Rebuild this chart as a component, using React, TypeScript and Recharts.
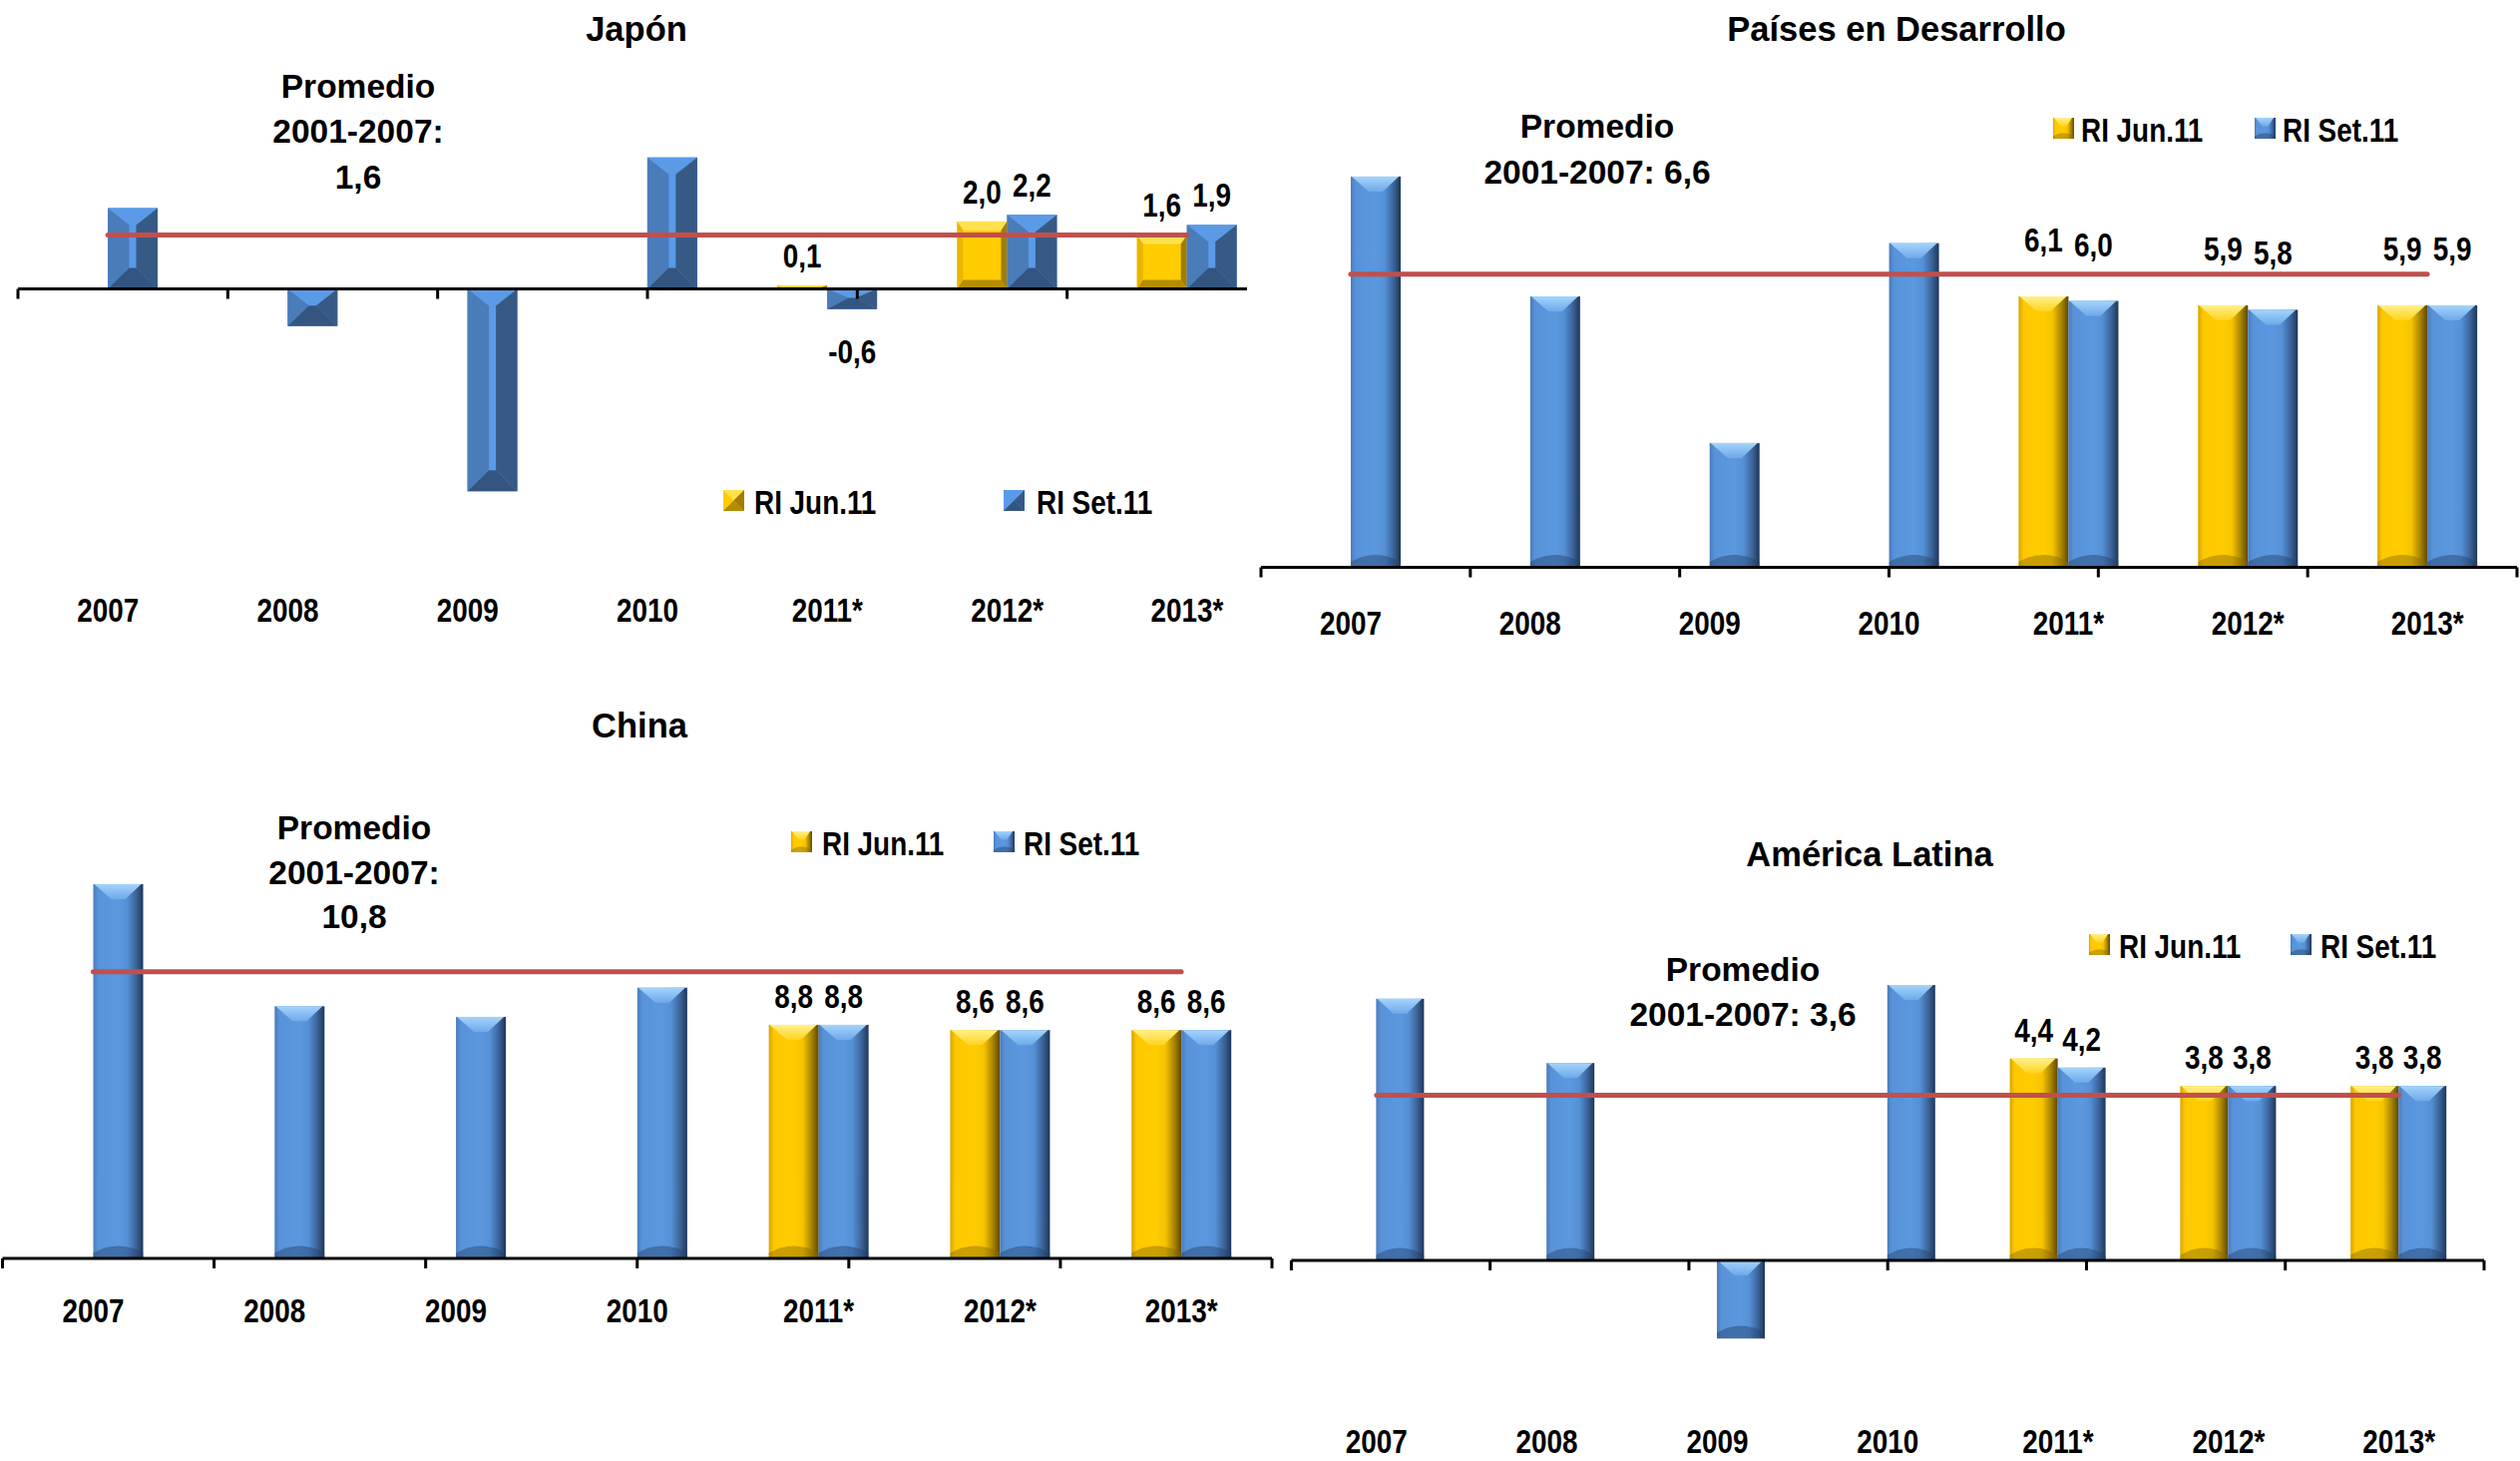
import React from 'react';
import { ComposedChart, Bar, Line, XAxis, YAxis, ReferenceLine, LabelList } from 'recharts';

// ---------- data ----------
const years = ['2007', '2008', '2009', '2010', '2011*', '2012*', '2013*'];
// projection years carry value labels
const projected = [false, false, false, false, true, true, true];
const seriesNames = ['RI Jun.11', 'RI Set.11'];

const japonJun = [null, null, null, null, 0.1, 2.0, 1.6];
const japonSet = [2.4, -1.1, -6.0, 3.9, -0.6, 2.2, 1.9];
const japonPromedio = 1.6;

const desarrolloJun = [null, null, null, null, 6.1, 5.9, 5.9];
const desarrolloSet = [8.8, 6.1, 2.8, 7.3, 6.0, 5.8, 5.9];
const desarrolloPromedio = 6.6;

const chinaJun = [null, null, null, null, 8.8, 8.6, 8.6];
const chinaSet = [14.1, 9.5, 9.1, 10.2, 8.8, 8.6, 8.6];
const chinaPromedio = 10.8;

const latamJun = [null, null, null, null, 4.4, 3.8, 3.8];
const latamSet = [5.7, 4.3, -1.7, 6.0, 4.2, 3.8, 3.8];
const latamPromedio = 3.6;

// ---------- styling helpers ----------
const FONT = '"Liberation Sans", Arial, Helvetica, sans-serif';
const NARROW = 0.82;
const AVG_RED = '#C0504D';

const fmt = (v: number) => v.toFixed(1).replace('.', ',');

function NarrowText({ x, y, anchor = 'middle', size = 34, children }: any) {
  return (
    <text
      transform={`translate(${x},${y}) scale(${NARROW},1)`}
      textAnchor={anchor}
      fontFamily={FONT}
      fontWeight={700}
      fontSize={size}
      fill="#000"
    >
      {children}
    </text>
  );
}

const BEVEL: any = {
  blue: { face: '#5B9AE6', top: '#5B9AE6', left: '#4A7CBA', right: '#375A85', bottom: '#33557F', size: [21.5, 17, 21] },
  gold: { face: '#FFCC00', top: '#FFE14F', left: '#E9B600', right: '#A17D00', bottom: '#B48C00', size: [6, 9, 9] },
};

function BarFace(props: any) {
  const { x, y, width, height, tone, kind } = props;
  if (x == null || y == null || !width || !height) return null;
  let top = y;
  let h = height;
  if (h < 0) {
    top = y + h;
    h = -h;
  }
  const w = width;
  const x0 = x;
  const x1 = x + w;
  const y0 = top;
  const y1 = top + h;

  if (kind === 'bevel') {
    const p = BEVEL[tone];
    const s = Math.min(p.size[0], w / 2 - 3);
    let t = p.size[1];
    let b = p.size[2];
    if (t + b > h) {
      const k = h / (t + b);
      t *= k;
      b *= k;
    }
    return (
      <g>
        <rect x={x0} y={y0} width={w} height={h} fill={p.face} />
        <polygon points={`${x0},${y0} ${x1},${y0} ${x1 - s},${y0 + t} ${x0 + s},${y0 + t}`} fill={p.top} />
        <polygon points={`${x0},${y0} ${x0 + s},${y0 + t} ${x0 + s},${y1 - b} ${x0},${y1}`} fill={p.left} />
        <polygon points={`${x1},${y0} ${x1 - s},${y0 + t} ${x1 - s},${y1 - b} ${x1},${y1}`} fill={p.right} />
        <polygon points={`${x0},${y1} ${x0 + s},${y1 - b} ${x1 - s},${y1 - b} ${x1},${y1}`} fill={p.bottom} />
      </g>
    );
  }

  const cap = Math.min(15, h * 0.4);
  const shade = Math.min(14, h * 0.3);
  return (
    <g>
      <rect x={x0} y={y0} width={w} height={h} fill={`url(#glass-${tone})`} />
      <polygon
        points={`${x0 + 1},${y0} ${x1 - 2},${y0} ${x0 + w * 0.64},${y0 + cap} ${x0 + w * 0.36},${y0 + cap}`}
        fill={`url(#cap-${tone})`}
      />
      <path
        d={`M${x0},${y1} L${x0},${y1 - shade * 0.4} Q${x0 + w / 2},${y1 - shade * 1.4} ${x1},${y1 - shade * 0.4} L${x1},${y1} Z`}
        fill={tone === 'blue' ? '#23406A' : '#8A6A00'}
        opacity={0.45}
      />
    </g>
  );
}

function CategoryTick(props: any) {
  const { x, y, payload, dy } = props;
  return <NarrowText x={x} y={y + dy}>{payload.value}</NarrowText>;
}

function TickMark(props: any) {
  const { x1, y1 } = props;
  if (x1 == null || y1 == null) return null;
  return <line x1={x1} y1={y1} x2={x1} y2={y1 + 10} stroke="#000" strokeWidth={3} />;
}

const labelRenderer = (gapAbove: number, gapBelow: number) => (props: any) => {
  const raw = props.value;
  const v = typeof raw === 'number' ? raw : Array.isArray(raw) ? raw[1] : null;
  if (v == null) return null;
  const vb = props.viewBox && props.viewBox.width != null ? props.viewBox : props;
  let { x, y, width, height } = vb;
  if (x == null || y == null) return null;
  if (height < 0) {
    y += height;
    height = -height;
  }
  const baseline = v >= 0 ? y - gapAbove + 12 : y + height + gapBelow + 12;
  return (
    <NarrowText key={`lbl-${props.index}-${x}`} x={x + width / 2} y={baseline}>
      {fmt(v)}
    </NarrowText>
  );
};

// ---------- panels ----------
const panels = [
  {
    key: 'japon',
    title: 'Japón',
    promedio: ['Promedio', '2001-2007:', fmt(japonPromedio)],
    jun: japonJun,
    set: japonSet,
    avg: japonPromedio,
    kind: 'bevel',
    box: { left: 0, top: 0, width: 1290, height: 640, clip: 1250 },
    margin: { top: 120.5, right: 10, bottom: 83.9, left: 18 },
    domain: [-7, 5],
    barSize: 50,
    gapAbove: 30,
    gapBelow: 42,
    tickDy: 96.4,
    titlePos: [638, 41],
    promedioPos: [359, 97.5, 45.7],
    legend: { squares: [725, 1006], texts: [756, 1039], baseline: 515 },
  },
  {
    key: 'desarrollo',
    title: 'Países en Desarrollo',
    promedio: ['Promedio', `2001-2007: ${fmt(desarrolloPromedio)}`],
    jun: desarrolloJun,
    set: desarrolloSet,
    avg: desarrolloPromedio,
    kind: 'glass',
    box: { left: 1260, top: 0, width: 1266, height: 660, clip: 1266 },
    margin: { top: 123.5, right: 3, bottom: 61.5, left: 4 },
    domain: [0, 10],
    barSize: 50,
    gapAbove: 57,
    gapBelow: 40,
    tickDy: 67,
    titlePos: [1901, 41],
    promedioPos: [1601, 137.5, 46],
    legend: { squares: [2058, 2260], texts: [2086, 2288], baseline: 142 },
  },
  {
    key: 'china',
    title: 'China',
    promedio: ['Promedio', '2001-2007:', fmt(chinaPromedio)],
    jun: chinaJun,
    set: chinaSet,
    avg: chinaPromedio,
    kind: 'glass',
    box: { left: 0, top: 690, width: 1290, height: 690, clip: 1290 },
    margin: { top: 145.4, right: 15, bottom: 89, left: 2.5 },
    domain: [0, 16],
    barSize: 50,
    gapAbove: 29,
    gapBelow: 40,
    tickDy: 64,
    titlePos: [641, 739],
    promedioPos: [355, 841, 44.5],
    legend: { squares: [793, 996], texts: [824, 1026], baseline: 857 },
  },
  {
    key: 'latam',
    title: 'América Latina',
    promedio: ['Promedio', `2001-2007: ${fmt(latamPromedio)}`],
    jun: latamJun,
    set: latamSet,
    avg: latamPromedio,
    kind: 'glass',
    box: { left: 1280, top: 780, width: 1246, height: 684, clip: 1246 },
    margin: { top: 115, right: 36, bottom: 10, left: 14.4 },
    domain: [-3.5, 8],
    barSize: 48,
    gapAbove: 29,
    gapBelow: 40,
    tickDy: 32,
    titlePos: [1874, 868],
    promedioPos: [1747, 982.5, 45],
    legend: { squares: [2094, 2296], texts: [2124, 2326], baseline: 960 },
  },
];

function PanelChart({ panel }: any) {
  const data = years.map((year, i) => ({
    year,
    jun: panel.jun[i],
    set: panel.set[i],
    junLabel: projected[i] ? panel.jun[i] : null,
    setLabel: projected[i] ? panel.set[i] : null,
    prom: panel.avg,
  }));
  const edges = years.map((_, i) => i).concat(years.length);
  return (
    <div
      style={{
        position: 'absolute',
        left: panel.box.left,
        top: panel.box.top,
        width: panel.box.clip,
        height: panel.box.height,
        overflow: 'hidden',
      }}
    >
      <ComposedChart width={panel.box.width} height={panel.box.height} data={data} margin={panel.margin} barGap={0}>
        <XAxis
          dataKey="year"
          axisLine={false}
          tickLine={false}
          tickSize={0}
          tickMargin={0}
          height={30}
          interval={0}
          tick={<CategoryTick dy={panel.tickDy} />}
        />
        <XAxis xAxisId="edges" type="number" domain={[0, years.length]} hide allowDataOverflow />
        <YAxis hide type="number" domain={panel.domain} allowDataOverflow />
        <Bar
          dataKey="jun"
          name={seriesNames[0]}
          barSize={panel.barSize}
          isAnimationActive={false}
          shape={(p: any) => <BarFace {...p} tone="gold" kind={panel.kind} />}
        >
          <LabelList dataKey="junLabel" content={labelRenderer(panel.gapAbove, panel.gapBelow)} />
        </Bar>
        <Bar
          dataKey="set"
          name={seriesNames[1]}
          barSize={panel.barSize}
          isAnimationActive={false}
          shape={(p: any) => <BarFace {...p} tone="blue" kind={panel.kind} />}
        >
          <LabelList dataKey="setLabel" content={labelRenderer(panel.gapAbove, panel.gapBelow)} />
        </Bar>
        <ReferenceLine y={0} stroke="#000" strokeWidth={3} ifOverflow="visible" />
        {edges.map((i) => (
          <ReferenceLine
            key={`edge-${i}`}
            xAxisId="edges"
            segment={[
              { x: i, y: 0 },
              { x: i, y: 0 },
            ]}
            ifOverflow="visible"
            shape={TickMark}
          />
        ))}
        <Line
          type="linear"
          dataKey="prom"
          stroke={AVG_RED}
          strokeWidth={5}
          strokeLinecap="round"
          dot={false}
          activeDot={false}
          isAnimationActive={false}
        />
      </ComposedChart>
    </div>
  );
}

function MiniSwatch({ x, y, tone, kind }: any) {
  if (kind === 'bevel') {
    const p = BEVEL[tone];
    const s = 21;
    return (
      <g>
        <rect x={x} y={y} width={s} height={s} fill={p.face} />
        <polygon points={`${x},${y} ${x + s},${y} ${x + s / 2},${y + s / 2}`} fill={p.top} />
        <polygon points={`${x + s},${y} ${x + s},${y + s} ${x + s / 2},${y + s / 2}`} fill={p.right} />
        <polygon points={`${x},${y + s} ${x + s},${y + s} ${x + s / 2},${y + s / 2}`} fill={p.bottom} />
      </g>
    );
  }
  return <BarFace x={x} y={y} width={21} height={21} tone={tone} kind="glass" />;
}

function Overlay() {
  return (
    <svg width={2526} height={1464} style={{ position: 'absolute', left: 0, top: 0, pointerEvents: 'none' }}>
      {panels.map((panel) => (
        <g key={panel.key}>
          <text
            x={panel.titlePos[0]}
            y={panel.titlePos[1]}
            textAnchor="middle"
            fontFamily={FONT}
            fontWeight={700}
            fontSize={34.5}
            fill="#000"
          >
            {panel.title}
          </text>
          {panel.promedio.map((line: string, i: number) => (
            <text
              key={i}
              x={panel.promedioPos[0]}
              y={panel.promedioPos[1] + i * panel.promedioPos[2]}
              textAnchor="middle"
              fontFamily={FONT}
              fontWeight={700}
              fontSize={33.5}
              fill="#000"
            >
              {line}
            </text>
          ))}
          {seriesNames.map((name, i) => (
            <g key={name}>
              <MiniSwatch
                x={panel.legend.squares[i]}
                y={panel.legend.baseline - 24}
                tone={i === 0 ? 'gold' : 'blue'}
                kind={panel.kind}
              />
              <NarrowText x={panel.legend.texts[i]} y={panel.legend.baseline} anchor="start">
                {name}
              </NarrowText>
            </g>
          ))}
        </g>
      ))}
    </svg>
  );
}

function GradientDefs() {
  return (
    <svg width={0} height={0} style={{ position: 'absolute', left: 0, top: 0 }}>
      <defs>
        <linearGradient id="glass-blue" x1="0" y1="0" x2="1" y2="0">
          <stop offset="0" stopColor="#4A7BBB" />
          <stop offset="0.1" stopColor="#5893DA" />
          <stop offset="0.5" stopColor="#5B98DF" />
          <stop offset="0.68" stopColor="#5590D6" />
          <stop offset="0.86" stopColor="#3A6398" />
          <stop offset="1" stopColor="#1E3658" />
        </linearGradient>
        <linearGradient id="glass-gold" x1="0" y1="0" x2="1" y2="0">
          <stop offset="0" stopColor="#D6A400" />
          <stop offset="0.1" stopColor="#FFC800" />
          <stop offset="0.5" stopColor="#FFCC00" />
          <stop offset="0.68" stopColor="#F5C300" />
          <stop offset="0.86" stopColor="#A88300" />
          <stop offset="1" stopColor="#5C4700" />
        </linearGradient>
        <linearGradient id="cap-blue" x1="0" y1="0" x2="0" y2="1">
          <stop offset="0" stopColor="#A4D4FB" />
          <stop offset="1" stopColor="#6EA9EA" />
        </linearGradient>
        <linearGradient id="cap-gold" x1="0" y1="0" x2="0" y2="1">
          <stop offset="0" stopColor="#FFF08C" />
          <stop offset="1" stopColor="#FFD41E" />
        </linearGradient>
      </defs>
    </svg>
  );
}

export default function App() {
  return (
    <div style={{ position: 'absolute', left: 0, top: 0, width: 2526, height: 1464, background: '#fff', overflow: 'hidden' }}>
      <GradientDefs />
      {panels.map((panel) => (
        <PanelChart key={panel.key} panel={panel} />
      ))}
      <Overlay />
    </div>
  );
}
